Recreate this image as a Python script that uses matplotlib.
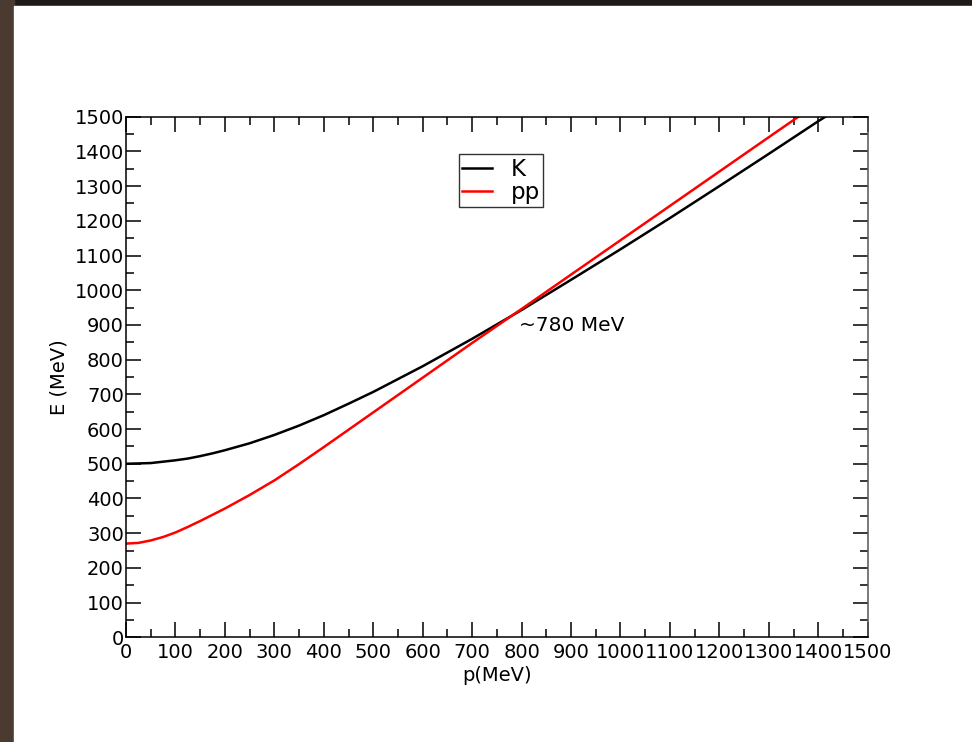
import matplotlib
matplotlib.use('Agg')
import matplotlib.pyplot as plt
from matplotlib.patches import Rectangle
from matplotlib.ticker import MultipleLocator

# K curve
p_K = [0, 25, 50, 75, 100, 125, 150, 175, 200, 250, 300, 350, 400, 450, 500, 600, 700, 800,
       900, 1000, 1100, 1200, 1300, 1400, 1420]
E_K = [500, 501, 502, 506, 510, 515, 522, 530, 539, 559, 583, 610, 640, 673, 707, 781, 860, 943,
       1030, 1118, 1208, 1300, 1393, 1487, 1505]

# pp curve
p_pp = [0, 25, 50, 75, 100, 125, 150, 175, 200, 250, 300, 350, 400, 450, 500, 600, 700, 800,
        900, 1000, 1100, 1200, 1300, 1365]
E_pp = [270, 272, 279, 289, 302, 318, 335, 353, 371, 410, 452, 499, 548, 598, 648, 748, 848, 946,
        1045, 1144, 1243, 1342, 1441, 1505]

fig = plt.figure(figsize=(9.72, 7.42), dpi=100)
fig.patch.set_facecolor('#1d1a18')
# screenshot frame: brown strip on the left, white page
fig.patches.append(Rectangle((0, 0), 14/972, 1, transform=fig.transFigure, color='#4a3a30', zorder=-2))
fig.patches.append(Rectangle((14/972, 0), 1, 1 - 6/742, transform=fig.transFigure, color='white', zorder=-2))

ax = fig.add_axes([126/972, 1 - 637.3/742, 741.7/972, 520.6/742])
ax.set_zorder(1)
ax.plot(p_K, E_K, color='black', lw=1.8, label='K')
ax.plot(p_pp, E_pp, color='red', lw=1.8, label='pp')

ax.set_xlim(0, 1500)
ax.set_ylim(0, 1500)
ax.xaxis.set_major_locator(MultipleLocator(100))
ax.xaxis.set_minor_locator(MultipleLocator(50))
ax.yaxis.set_major_locator(MultipleLocator(100))
ax.yaxis.set_minor_locator(MultipleLocator(50))
ax.tick_params(which='both', direction='in', top=True, right=True, width=1.1, labelsize=14)
ax.tick_params(which='major', length=10.5)
ax.tick_params(which='minor', length=5.5)
ax.tick_params(axis='y', pad=1.5)
ax.tick_params(axis='x', pad=4)
for s in ax.spines.values():
    s.set_linewidth(1.1)
ax.spines['right'].set_color('#555555')

ax.set_xlabel('p(MeV)', fontsize=14, labelpad=3)
ax.set_ylabel('E (MeV)', fontsize=14, labelpad=4)

ax.text(795, 897, '~780 MeV', fontsize=14.5, ha='left', va='center')

leg = ax.legend(loc='upper left', bbox_to_anchor=(0.449, 0.928), borderaxespad=0,
                fontsize=16.5, handlelength=1.3, handletextpad=0.8, labelspacing=0.0,
                borderpad=0.15, fancybox=False, framealpha=1)
leg.get_frame().set_edgecolor('#333333')
leg.get_frame().set_linewidth(1.0)

plt.savefig('out.png', dpi=100, facecolor=fig.get_facecolor())
